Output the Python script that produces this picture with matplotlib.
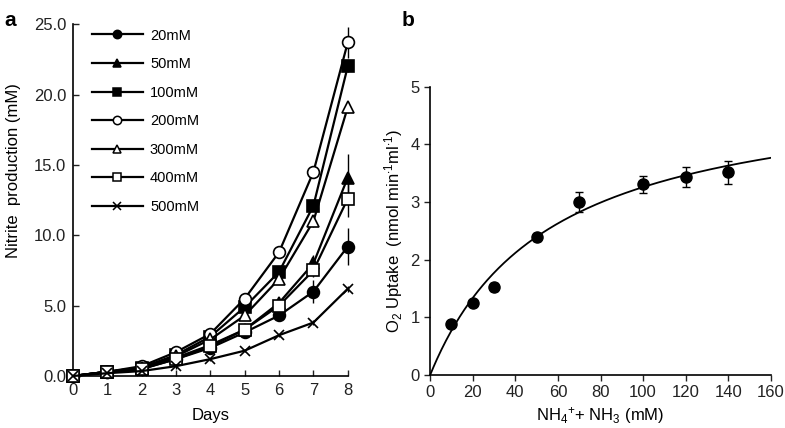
import numpy as np
import matplotlib
matplotlib.use("Agg")
import matplotlib.pyplot as plt
from matplotlib.lines import Line2D

plt.rcParams['font.family'] = ['Liberation Sans', 'DejaVu Sans']
plt.rcParams['mathtext.fontset'] = 'custom'
plt.rcParams['mathtext.rm'] = 'Liberation Sans'
plt.rcParams['mathtext.it'] = 'Liberation Sans'

# --- Panel a data: nitrite production (mM) per day ---
days = [0, 1, 2, 3, 4, 5, 6, 7, 8]
labels = ['20mM', '50mM', '100mM', '200mM', '300mM', '400mM', '500mM']
nit_20 = [0, 0.3, 0.5, 1.2, 2.0, 3.1, 4.3, 6.0, 9.2]
nit_50 = [0, 0.3, 0.5, 1.3, 2.2, 3.3, 5.2, 8.0, 14.1]
nit_100 = [0, 0.3, 0.6, 1.5, 2.8, 4.9, 7.4, 12.1, 22.0]
nit_200 = [0, 0.3, 0.7, 1.7, 3.0, 5.5, 8.8, 14.5, 23.7]
nit_300 = [0, 0.3, 0.6, 1.4, 2.6, 4.3, 6.9, 11.0, 19.1]
nit_400 = [0, 0.3, 0.5, 1.2, 2.1, 3.3, 5.0, 7.5, 12.6]
nit_500 = [0, 0.2, 0.35, 0.7, 1.2, 1.8, 2.9, 3.8, 6.2]
err_20 = [0, 0, 0, 0.1, 0.2, 0.2, 0.4, 0.8, 1.3]
err_50 = [0, 0, 0, 0.1, 0.2, 0.2, 0.3, 0.6, 1.7]
err_100 = [0, 0, 0, 0.1, 0.1, 0.2, 0.3, 0.4, 0.4]
err_200 = [0, 0, 0, 0.1, 0.1, 0.2, 0.2, 0.3, 1.1]
err_300 = [0, 0, 0, 0.1, 0.1, 0.3, 0.3, 0.4, 0.4]
err_400 = [0, 0, 0, 0.1, 0.2, 0.2, 0.3, 0.5, 1.3]
err_500 = [0, 0, 0, 0.2, 0.1, 0.1, 0.1, 0.2, 0.2]

# --- Panel b data: O2 uptake vs substrate ---
conc = [10, 20, 30, 50, 70, 100, 120, 140]
uptake = [0.88, 1.25, 1.52, 2.39, 3.0, 3.31, 3.44, 3.52]
uptake_err = [0.05, 0.05, 0.07, 0.07, 0.18, 0.15, 0.17, 0.2]
vmax, km = 5.09, 56.1  # Michaelis-Menten fit

fig = plt.figure(figsize=(7.85, 4.28), dpi=100)
ax1 = fig.add_axes([0.093, 0.1215, 0.350, 0.822])
ax2 = fig.add_axes([0.548, 0.124, 0.434, 0.673])

series = [
    (nit_20, err_20, 'o', 'black'),
    (nit_50, err_50, '^', 'black'),
    (nit_100, err_100, 's', 'black'),
    (nit_200, err_200, 'o', 'white'),
    (nit_300, err_300, '^', 'white'),
    (nit_400, err_400, 's', 'white'),
    (nit_500, err_500, 'x', 'black'),
]
handles = []
for (vals, err, mk, fc), lab in zip(series, labels):
    ax1.errorbar(days, vals, yerr=err, marker=mk, mfc=fc, mec='black',
                 color='black', lw=1.6, ms=8.5 if mk != 'x' else 7, mew=1.2,
                 elinewidth=1.0, capsize=0, clip_on=False, zorder=3)
    handles.append(Line2D([], [], marker=mk, mfc=fc, mec='black', color='black',
                          lw=1.6, ms=6 if mk != 'x' else 5.5, mew=1.1, label=lab))

ax1.set_xlim(0, 8)
ax1.set_ylim(0, 25)
ax1.set_xticks(days)
ax1.set_yticks([0, 5, 10, 15, 20, 25])
ax1.set_yticklabels(['0.0', '5.0', '10.0', '15.0', '20.0', '25.0'])
ax1.set_xlabel('Days', fontsize=12, labelpad=7)
ax1.set_ylabel('Nitrite  production (mM)', fontsize=12)
ax1.yaxis.set_label_coords(-0.19, 0.585)
ax1.legend(handles=handles, loc='upper left', bbox_to_anchor=(0.02, 1.025),
           frameon=False, handlelength=3.5, fontsize=10.5, labelspacing=1.0,
           handletextpad=0.5)

ax2.errorbar(conc, uptake, yerr=uptake_err, fmt='o', color='black', ms=8,
             capsize=3, elinewidth=1.0, capthick=1.0, zorder=3)
s = np.linspace(0, 160, 300)
ax2.plot(s, vmax * s / (km + s), color='black', lw=1.3)
ax2.set_xlim(0, 160)
ax2.set_ylim(0, 5)
ax2.set_xticks(range(0, 161, 20))
ax2.set_yticks(range(0, 6))
ax2.set_xlabel(r'NH$_4$$^{+}$+ NH$_3$ (mM)', fontsize=12, labelpad=3)
ax2.set_ylabel(r'O$_2$ Uptake  (nmol min$^{\cdot1}$ml$^{\cdot1}$)', fontsize=12)

for ax in (ax1, ax2):
    for side in ('top', 'right'):
        ax.spines[side].set_visible(False)
    ax.spines['left'].set_linewidth(1.2)
    ax.spines['bottom'].set_linewidth(1.2)
    ax.tick_params(labelsize=12, width=1.0, length=4, colors='#222222')
ax1.tick_params(axis='both', direction='in', pad=5)

fig.text(0.006, 0.975, 'a', fontsize=15, fontweight='bold', va='top')
fig.text(0.512, 0.975, 'b', fontsize=15, fontweight='bold', va='top')

fig.savefig('out.png', dpi=100)
